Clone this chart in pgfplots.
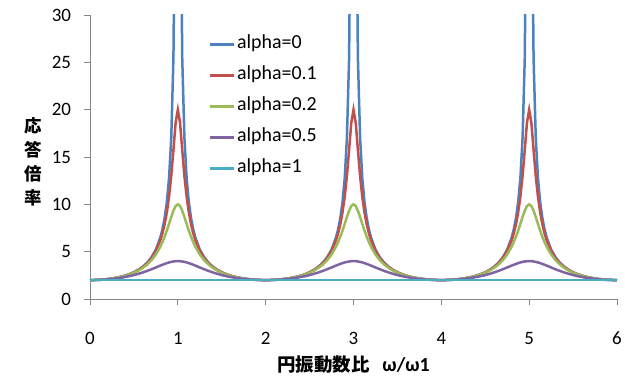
\documentclass[border=0pt]{standalone}
\usepackage{pgfplots}
\pgfplotsset{compat=1.18}
\usepackage{pgfplotstable}
\usepackage{fontspec}
\setmainfont{Carlito}
\newfontfamily\cjk{Noto Sans CJK JP}
\definecolor{cA}{HTML}{4F81BD}
\definecolor{cB}{HTML}{C0504D}
\definecolor{cC}{HTML}{9BBB59}
\definecolor{cD}{HTML}{8064A2}
\definecolor{cE}{HTML}{4BACC6}
\definecolor{axisgray}{HTML}{868686}
\pgfplotstableread{
x a b c d e
0 2 2 2 2 2
0.05 2.006 2.006 2.006 2.005 2
0.1 2.025 2.025 2.024 2.019 2
0.15 2.057 2.056 2.054 2.042 2
0.2 2.103 2.102 2.098 2.076 2
0.25 2.165 2.163 2.157 2.120 2
0.3 2.245 2.242 2.233 2.175 2
0.35 2.346 2.341 2.328 2.243 2
0.4 2.472 2.466 2.446 2.324 2
0.45 2.630 2.621 2.593 2.419 2
0.5 2.828 2.814 2.774 2.530 2
0.55 3.080 3.059 2.998 2.658 2
0.6 3.403 3.371 3.281 2.803 2
0.65 3.828 3.778 3.639 2.966 2
0.7 4.405 4.323 4.101 3.144 2
0.75 5.226 5.080 4.706 3.333 2
0.8 6.472 6.186 5.512 3.527 2
0.825 7.368 6.944 6.010 3.620 2
0.85 8.567 7.909 6.582 3.708 2
0.875 10.252 9.159 7.229 3.790 2
0.9 12.785 10.811 7.937 3.861 2
0.925 17.016 12.998 8.666 3.920 2
0.95 25.491 15.763 9.334 3.964 2
0.975 50.942 18.629 9.820 3.991 2
1 200 20 10 4 2
1.025 50.942 18.629 9.820 3.991 2
1.05 25.491 15.763 9.334 3.964 2
1.075 17.016 12.998 8.666 3.920 2
1.1 12.785 10.811 7.937 3.861 2
1.125 10.252 9.159 7.229 3.790 2
1.15 8.567 7.909 6.582 3.708 2
1.175 7.368 6.944 6.010 3.620 2
1.2 6.472 6.186 5.512 3.527 2
1.25 5.226 5.080 4.706 3.333 2
1.3 4.405 4.323 4.101 3.144 2
1.35 3.828 3.778 3.639 2.966 2
1.4 3.403 3.371 3.281 2.803 2
1.45 3.080 3.059 2.998 2.658 2
1.5 2.828 2.814 2.774 2.530 2
1.55 2.630 2.621 2.593 2.419 2
1.6 2.472 2.466 2.446 2.324 2
1.65 2.346 2.341 2.328 2.243 2
1.7 2.245 2.242 2.233 2.175 2
1.75 2.165 2.163 2.157 2.120 2
1.8 2.103 2.102 2.098 2.076 2
1.85 2.057 2.056 2.054 2.042 2
1.9 2.025 2.025 2.024 2.019 2
1.95 2.006 2.006 2.006 2.005 2
2 2 2 2 2 2
2.05 2.006 2.006 2.006 2.005 2
2.1 2.025 2.025 2.024 2.019 2
2.15 2.057 2.056 2.054 2.042 2
2.2 2.103 2.102 2.098 2.076 2
2.25 2.165 2.163 2.157 2.120 2
2.3 2.245 2.242 2.233 2.175 2
2.35 2.346 2.341 2.328 2.243 2
2.4 2.472 2.466 2.446 2.324 2
2.45 2.630 2.621 2.593 2.419 2
2.5 2.828 2.814 2.774 2.530 2
2.55 3.080 3.059 2.998 2.658 2
2.6 3.403 3.371 3.281 2.803 2
2.65 3.828 3.778 3.639 2.966 2
2.7 4.405 4.323 4.101 3.144 2
2.75 5.226 5.080 4.706 3.333 2
2.8 6.472 6.186 5.512 3.527 2
2.825 7.368 6.944 6.010 3.620 2
2.85 8.567 7.909 6.582 3.708 2
2.875 10.252 9.159 7.229 3.790 2
2.9 12.785 10.811 7.937 3.861 2
2.925 17.016 12.998 8.666 3.920 2
2.95 25.491 15.763 9.334 3.964 2
2.975 50.942 18.629 9.820 3.991 2
3 200 20 10 4 2
3.025 50.942 18.629 9.820 3.991 2
3.05 25.491 15.763 9.334 3.964 2
3.075 17.016 12.998 8.666 3.920 2
3.1 12.785 10.811 7.937 3.861 2
3.125 10.252 9.159 7.229 3.790 2
3.15 8.567 7.909 6.582 3.708 2
3.175 7.368 6.944 6.010 3.620 2
3.2 6.472 6.186 5.512 3.527 2
3.25 5.226 5.080 4.706 3.333 2
3.3 4.405 4.323 4.101 3.144 2
3.35 3.828 3.778 3.639 2.966 2
3.4 3.403 3.371 3.281 2.803 2
3.45 3.080 3.059 2.998 2.658 2
3.5 2.828 2.814 2.774 2.530 2
3.55 2.630 2.621 2.593 2.419 2
3.6 2.472 2.466 2.446 2.324 2
3.65 2.346 2.341 2.328 2.243 2
3.7 2.245 2.242 2.233 2.175 2
3.75 2.165 2.163 2.157 2.120 2
3.8 2.103 2.102 2.098 2.076 2
3.85 2.057 2.056 2.054 2.042 2
3.9 2.025 2.025 2.024 2.019 2
3.95 2.006 2.006 2.006 2.005 2
4 2 2 2 2 2
4.05 2.006 2.006 2.006 2.005 2
4.1 2.025 2.025 2.024 2.019 2
4.15 2.057 2.056 2.054 2.042 2
4.2 2.103 2.102 2.098 2.076 2
4.25 2.165 2.163 2.157 2.120 2
4.3 2.245 2.242 2.233 2.175 2
4.35 2.346 2.341 2.328 2.243 2
4.4 2.472 2.466 2.446 2.324 2
4.45 2.630 2.621 2.593 2.419 2
4.5 2.828 2.814 2.774 2.530 2
4.55 3.080 3.059 2.998 2.658 2
4.6 3.403 3.371 3.281 2.803 2
4.65 3.828 3.778 3.639 2.966 2
4.7 4.405 4.323 4.101 3.144 2
4.75 5.226 5.080 4.706 3.333 2
4.8 6.472 6.186 5.512 3.527 2
4.825 7.368 6.944 6.010 3.620 2
4.85 8.567 7.909 6.582 3.708 2
4.875 10.252 9.159 7.229 3.790 2
4.9 12.785 10.811 7.937 3.861 2
4.925 17.016 12.998 8.666 3.920 2
4.95 25.491 15.763 9.334 3.964 2
4.975 50.942 18.629 9.820 3.991 2
5 200 20 10 4 2
5.025 50.942 18.629 9.820 3.991 2
5.05 25.491 15.763 9.334 3.964 2
5.075 17.016 12.998 8.666 3.920 2
5.1 12.785 10.811 7.937 3.861 2
5.125 10.252 9.159 7.229 3.790 2
5.15 8.567 7.909 6.582 3.708 2
5.175 7.368 6.944 6.010 3.620 2
5.2 6.472 6.186 5.512 3.527 2
5.25 5.226 5.080 4.706 3.333 2
5.3 4.405 4.323 4.101 3.144 2
5.35 3.828 3.778 3.639 2.966 2
5.4 3.403 3.371 3.281 2.803 2
5.45 3.080 3.059 2.998 2.658 2
5.5 2.828 2.814 2.774 2.530 2
5.55 2.630 2.621 2.593 2.419 2
5.6 2.472 2.466 2.446 2.324 2
5.65 2.346 2.341 2.328 2.243 2
5.7 2.245 2.242 2.233 2.175 2
5.75 2.165 2.163 2.157 2.120 2
5.8 2.103 2.102 2.098 2.076 2
5.85 2.057 2.056 2.054 2.042 2
5.9 2.025 2.025 2.024 2.019 2
5.95 2.006 2.006 2.006 2.005 2
6 2 2 2 2 2
}\datatable
\begin{document}
\begin{tikzpicture}
\begin{axis}[
  name=ax, scale only axis, width=527bp, height=284bp,
  xmin=0, xmax=6, ymin=0, ymax=30,
  axis x line*=bottom, axis y line*=left,
  axis line style={draw=axisgray, line width=0.8bp, -},
  xtick={0,1,2,3,4,5,6}, ytick={0,5,10,15,20,25,30},
  tick align=outside, major tick length=5.5bp,
  tick style={draw=axisgray, line width=0.8bp},
  /pgf/number format/assume math mode=true,
  ticklabel style={font=\fontsize{19}{22}\selectfont, text=black},
  xticklabel style={yshift=-24bp},
  yticklabel style={xshift=-10bp},
  xlabel={\cjk\bfseries\fontsize{18.5}{20}\selectfont 円振動数比\hspace{13bp}{\rmfamily\bfseries\fontsize{20}{20}\selectfont ω/ω1}},
  xlabel style={at={(rel axis cs:0.5,0)}, anchor=center, yshift=-66bp},
  ylabel={応\\答\\倍\\率},
  ylabel style={rotate=-90, at={(rel axis cs:0,0.5)}, anchor=center, xshift=-56.5bp, yshift=-4.5bp, align=center, font=\cjk\bfseries\fontsize{17.5}{24}\selectfont},
  legend style={draw=none, fill=none, at={(rel axis cs:0.220,0.9324)}, anchor=north west,
    font=\fontsize{20}{22}\selectfont, row sep=15bp,
    nodes={inner sep=0pt, text height=12bp, text depth=4bp},
    /tikz/every odd column/.append style={column sep=1.5bp}},
  legend cell align=left,
  legend image code/.code={\draw[#1, line width=2.5bp] (0bp,0bp) -- (24bp,0bp);},
  every axis plot/.append style={line width=2.5bp},
]
\addplot[cA, no marks] table[x=x, y=a] {\datatable};
\addplot[cB, no marks] table[x=x, y=b] {\datatable};
\addplot[cC, no marks] table[x=x, y=c] {\datatable};
\addplot[cD, no marks] table[x=x, y=d] {\datatable};
\addplot[cE, no marks] table[x=x, y=e] {\datatable};
\legend{alpha=0,alpha=0.1,alpha=0.2,alpha=0.5,alpha=1}
\end{axis}
\pgfresetboundingbox
\path ([shift={(-90bp,-77bp)}]ax.south west) rectangle ([shift={(8bp,15bp)}]ax.north east);
\end{tikzpicture}
\end{document}
